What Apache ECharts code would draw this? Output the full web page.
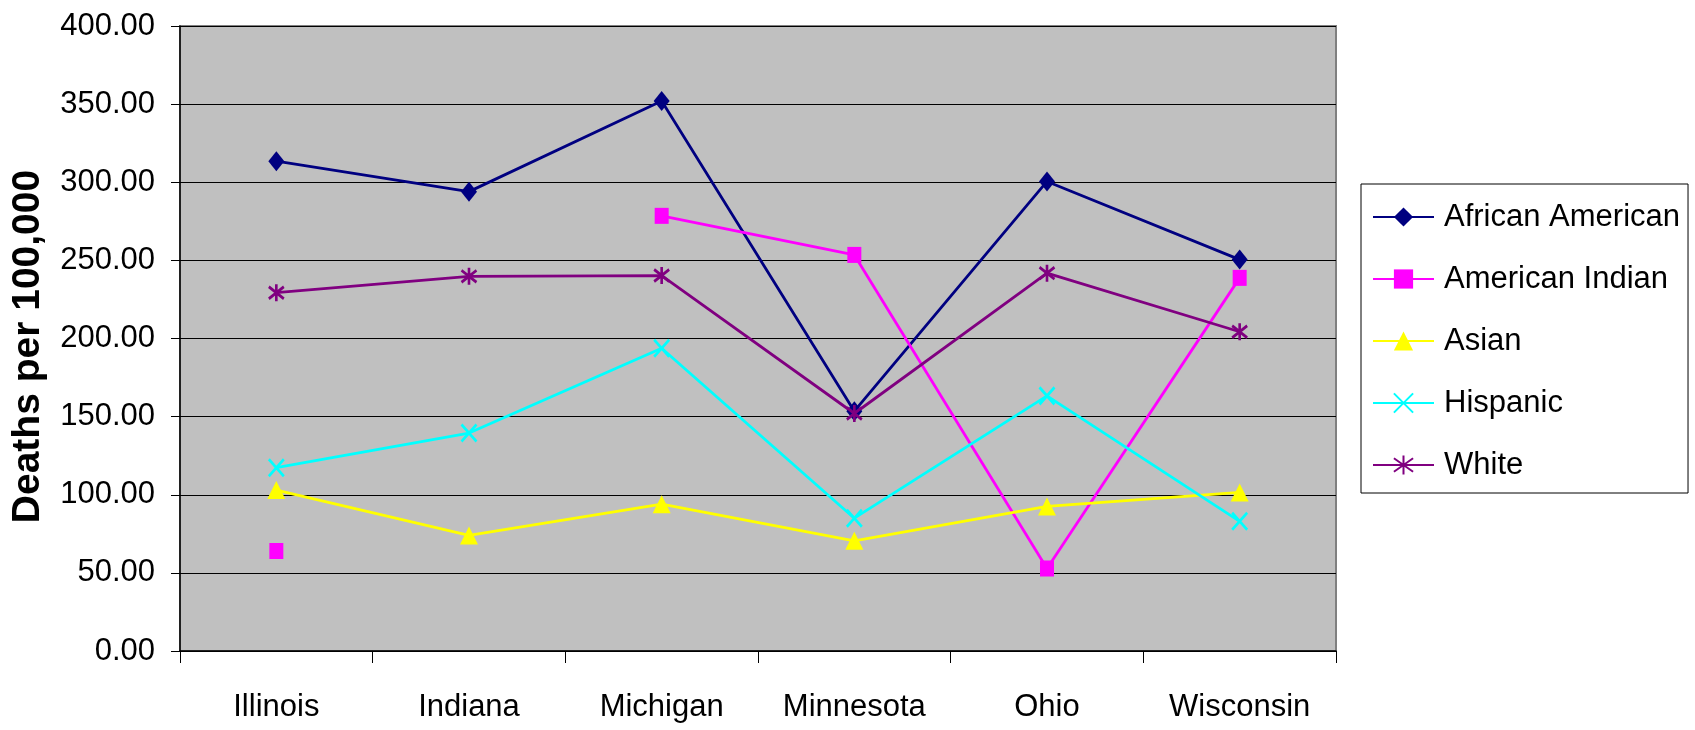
<!DOCTYPE html>
<html>
<head>
<meta charset="utf-8">
<script src="https://cdn.jsdelivr.net/npm/echarts@6/dist/echarts.min.js"></script>
<style>
    html, body { margin: 0; padding: 0; background: #fff; }
    #chart { width: 1695px; height: 730px; }
</style>
</head>
<body>
<div id="chart"></div>
<script>
// data
const states = ['Illinois', 'Indiana', 'Michigan', 'Minnesota', 'Ohio', 'Wisconsin']
const africanAmerican = [313.5, 294, 352, 153.5, 300.5, 250.5]
const americanIndian = [64, null, 278.5, 253.5, 52.8, 238.8]
const asian = [103, 74, 94, 70.5, 92.5, 101.5]
const hispanic = [117.3, 139.5, 193.8, 85, 163.3, 83]
const white = [229.3, 239.8, 240.3, 152, 241.8, 204.3]
const yTicks = [0, 50, 100, 150, 200, 250, 300, 350, 400]

const font = "'Liberation Sans', Arial, sans-serif"
const xPath = 'path://M0,0L10,10M10,0L0,10'
const starPath = 'path://M5,0L5,10M0,1.5L10,8.5M10,1.5L0,8.5'

function makeSeries (name, data, color, symbol, size, stroked) {
    return {
        name: name,
        type: 'line',
        data: data,
        symbol: symbol,
        symbolSize: size,
        showSymbol: true,
        connectNulls: false,
        lineStyle: { color: color, width: 2.8 },
        itemStyle: stroked
            ? { color: color, borderColor: color, borderWidth: 2.8 }
            : { color: color, borderWidth: 0 }
    }
}

const chart = echarts.init(document.getElementById('chart'))
const option = {
    animation: false,
    grid: {
        left: 180,
        right: 359,
        top: 26,
        bottom: 79,
        outerBoundsMode: 'none',
        containLabel: false,
        show: true,
        backgroundColor: '#C0C0C0',
        borderColor: '#808080',
        borderWidth: 2
    },
    legend: {
        orient: 'vertical',
        left: 1361,
        top: 184,
        padding: [13, 8, 8, 11],
        itemWidth: 61,
        itemHeight: 24,
        itemGap: 22,
        backgroundColor: '#fff',
        borderColor: '#000',
        borderWidth: 1,
        textStyle: {
            fontFamily: font,
            fontSize: 31,
            color: '#000',
            lineHeight: 40,
            padding: [0, 0, 0, 5]
        },
        data: ['African American', 'American Indian', 'Asian', 'Hispanic', 'White']
    },
    xAxis: {
        type: 'category',
        data: states,
        axisLine: { show: true, lineStyle: { color: '#000', width: 1.5 } },
        axisTick: { show: true, length: 12, lineStyle: { color: '#000', width: 1 } },
        axisLabel: {
            interval: 0,
            margin: 41,
            fontFamily: font,
            fontSize: 31,
            color: '#000'
        },
        splitLine: { show: false }
    },
    yAxis: {
        type: 'value',
        min: yTicks[0],
        max: yTicks[yTicks.length - 1],
        interval: yTicks[1] - yTicks[0],
        name: 'Deaths per 100,000',
        nameLocation: 'middle',
        nameRotate: 90,
        nameGap: 132,
        nameTextStyle: {
            fontFamily: font,
            fontWeight: 'bold',
            fontSize: 39,
            color: '#000',
            padding: [0, 16, 0, 0]
        },
        axisLine: { show: true, lineStyle: { color: '#000', width: 1.5 } },
        axisTick: { show: true, length: 9, lineStyle: { color: '#000', width: 1 } },
        axisLabel: {
            margin: 25,
            fontFamily: font,
            fontSize: 31,
            color: '#000',
            formatter: function (v) { return v.toFixed(2) }
        },
        splitLine: { show: true, lineStyle: { color: '#000', width: 1 } }
    },
    series: [
        makeSeries('African American', africanAmerican, '#000080', 'diamond', [16, 20], false),
        makeSeries('American Indian', americanIndian, '#FF00FF', 'rect', [14, 16], false),
        makeSeries('Asian', asian, '#FFFF00', 'triangle', [18, 18], false),
        makeSeries('Hispanic', hispanic, '#00FFFF', xPath, [15, 17], true),
        makeSeries('White', white, '#800080', starPath, [15, 17], true)
    ]
}
chart.setOption(option)
</script>
</body>
</html>
